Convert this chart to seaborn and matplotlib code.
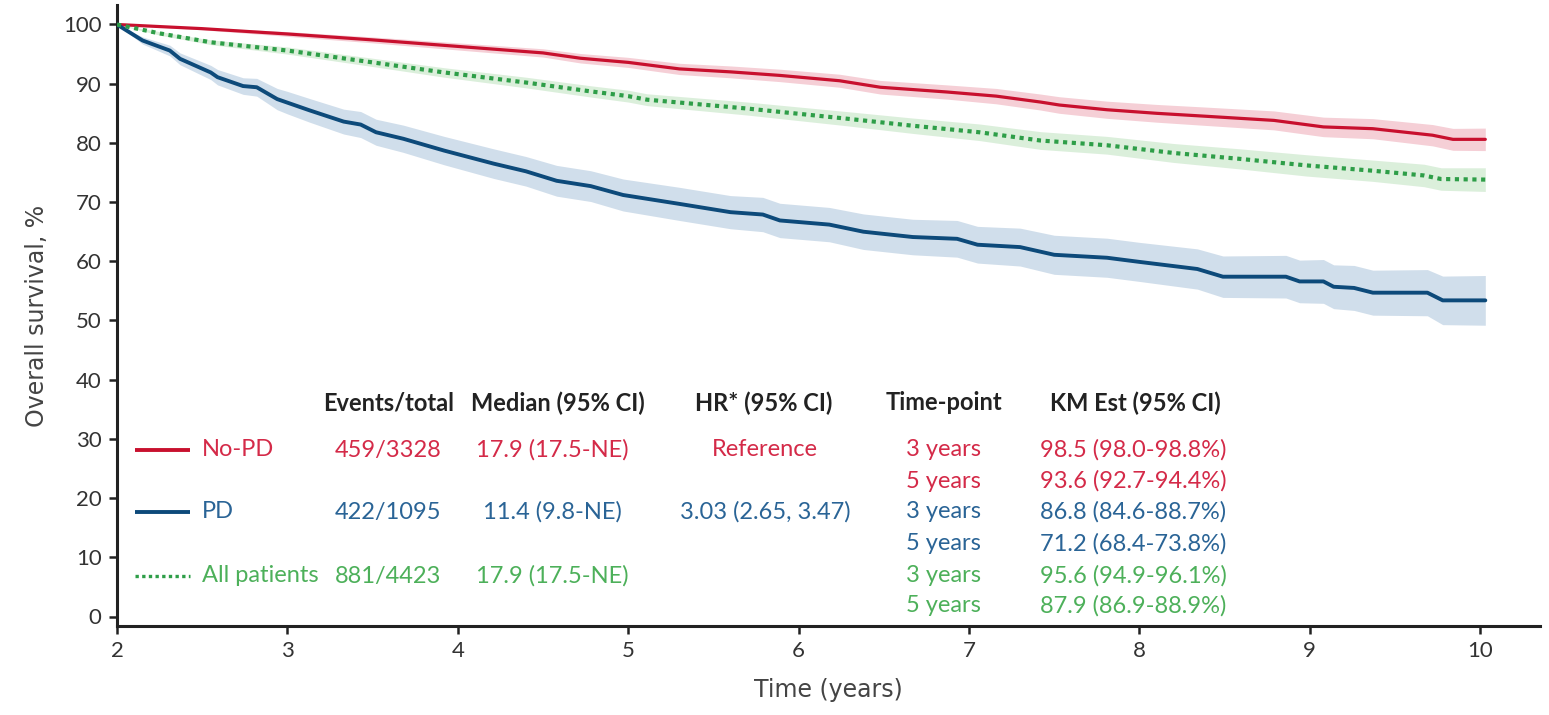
import matplotlib
matplotlib.use("Agg")
import matplotlib.pyplot as plt
import seaborn as sns
import pandas as pd
import numpy as np

# ---------------- data ----------------
red_t = [2.0, 2.5, 3.0, 3.5, 4.0, 4.5, 4.72, 5.0, 5.3, 5.6, 5.89, 6.24, 6.48,
         6.87, 7.16, 7.42, 7.53, 7.81, 8.1, 8.39, 8.79, 9.08, 9.37, 9.72, 9.84, 10.03]
red_s = [100, 99.3, 98.4, 97.4, 96.3, 95.2, 94.3, 93.6, 92.5, 92.0, 91.4, 90.5, 89.4,
         88.6, 87.9, 86.9, 86.4, 85.6, 85.0, 84.5, 83.8, 82.7, 82.4, 81.3, 80.6, 80.6]
red_hw = [0, 0.2, 0.4, 0.5, 0.6, 0.7, 0.8, 0.85, 0.95, 1.0, 1.05, 1.1, 1.15,
          1.2, 1.3, 1.35, 1.4, 1.45, 1.5, 1.55, 1.6, 1.65, 1.7, 1.8, 1.85, 1.9]

blue_t = [2.0, 2.15, 2.31, 2.37, 2.55, 2.59, 2.74, 2.82, 2.94, 3.0, 3.13, 3.33, 3.43,
          3.52, 3.68, 3.92, 4.21, 4.40, 4.58, 4.78, 4.97, 5.30, 5.60, 5.79, 5.89, 6.18,
          6.38, 6.67, 6.93, 7.05, 7.30, 7.50, 7.81, 8.00, 8.34, 8.49, 8.86, 8.94, 9.08,
          9.14, 9.26, 9.37, 9.69, 9.78, 10.03]
blue_s = [100, 97.3, 95.6, 94.2, 91.9, 91.1, 89.6, 89.4, 87.4, 86.8, 85.5, 83.6, 83.1,
          81.8, 80.7, 78.7, 76.5, 75.2, 73.6, 72.7, 71.2, 69.7, 68.3, 67.9, 66.9, 66.2,
          65.0, 64.1, 63.8, 62.8, 62.4, 61.1, 60.6, 59.9, 58.7, 57.4, 57.4, 56.6, 56.6,
          55.7, 55.5, 54.7, 54.7, 53.4, 53.4]
blue_hw = [0, 0.6, 0.9, 1.0, 1.2, 1.3, 1.4, 1.5, 1.8, 1.9, 2.0, 2.1, 2.2,
           2.2, 2.3, 2.4, 2.5, 2.5, 2.6, 2.6, 2.7, 2.8, 2.8, 2.9, 2.9, 2.9,
           3.0, 3.0, 3.1, 3.1, 3.2, 3.3, 3.3, 3.3, 3.4, 3.5, 3.6, 3.6, 3.7,
           3.7, 3.8, 3.8, 3.9, 4.1, 4.2]

green_t = [2.0, 2.25, 2.55, 3.0, 3.5, 3.92, 4.4, 4.78, 5.0, 5.11, 5.70, 6.28, 6.67,
           7.06, 7.42, 7.81, 8.20, 8.59, 8.98, 9.37, 9.67, 9.77, 10.03]
green_s = [100, 98.5, 97.0, 95.6, 93.6, 91.9, 90.2, 88.7, 87.9, 87.3, 85.8, 84.1, 82.9,
           81.8, 80.4, 79.6, 78.3, 77.3, 76.2, 75.3, 74.5, 73.9, 73.8]
green_hw = [0, 0.3, 0.4, 0.6, 0.7, 0.8, 0.9, 0.95, 1.0, 1.0, 1.1, 1.2, 1.3,
            1.4, 1.5, 1.5, 1.6, 1.7, 1.8, 1.8, 1.9, 1.9, 2.0]

x_ticks = [2, 3, 4, 5, 6, 7, 8, 9, 10]
y_ticks = [0, 10, 20, 30, 40, 50, 60, 70, 80, 90, 100]

headers = ["Events/total", "Median (95% CI)", "HR* (95% CI)", "Time-point", "KM Est (95% CI)"]
groups = ["No-PD", "PD", "All patients"]
events = ["459/3328", "422/1095", "881/4423"]
medians = ["17.9 (17.5-NE)", "11.4 (9.8-NE)", "17.9 (17.5-NE)"]
hrs = ["Reference", "3.03 (2.65, 3.47)", ""]
timepoints = ["3 years", "5 years"]
km_est = [["98.5 (98.0-98.8%)", "93.6 (92.7-94.4%)"],
          ["86.8 (84.6-88.7%)", "71.2 (68.4-73.8%)"],
          ["95.6 (94.9-96.1%)", "87.9 (86.9-88.9%)"]]

# ---------------- styling ----------------
line_cols = ["#C8102E", "#0D4A7A", "#2E9E48"]
band_cols = ["#F3C3CC", "#C5D6E6", "#D3EBD3"]
text_cols = ["#D42A48", "#2A6496", "#4DB05A"]

sns.set_theme(style="white")
plt.rcParams['font.family'] = ['Lato', 'DejaVu Sans']

fig = plt.figure(figsize=(15.49, 7.15), dpi=100)
ax = fig.add_axes([117 / 1549, (715 - 626) / 715, (1540 - 117) / 1549, (626 - 5) / 715])

series = [(red_t, red_s, red_hw), (blue_t, blue_s, blue_hw), (green_t, green_s, green_hw)]
for i, (t, s, hw) in enumerate(series):
    t = np.array(t); s = np.array(s); hw = np.array(hw)
    ax.fill_between(t, s - hw, np.minimum(s + hw, 100), color=band_cols[i], lw=0, alpha=0.8, zorder=1)

for i, (t, s, hw) in enumerate(series):
    df = pd.DataFrame({"t": t, "s": s})
    if i == 2:
        sns.lineplot(data=df, x="t", y="s", ax=ax, color=line_cols[i], lw=3.0,
                     linestyle=(0, (1, 1.1)), dash_capstyle="butt", errorbar=None,
                     sort=False, zorder=3)
    else:
        sns.lineplot(data=df, x="t", y="s", ax=ax, color=line_cols[i],
                     lw=2.3 if i == 0 else 2.8, errorbar=None, sort=False, zorder=3)

ax.set_xlim(2, 2 + (1540 - 117) / 170.4)
ax.set_ylim(-(626 - 616.5) / 5.92, (616.5 - 5) / 5.92)
ax.set_xticks(x_ticks)
ax.set_yticks(y_ticks)
ax.tick_params(axis="both", direction="out", length=6, width=1.8, color="#222222",
               labelsize=16, labelcolor="#333333", pad=5, left=True, bottom=True)
for side in ["top", "right"]:
    ax.spines[side].set_visible(False)
for side in ["left", "bottom"]:
    ax.spines[side].set_color("#222222")
    ax.spines[side].set_linewidth(2.2)

cond = ['Liberation Sans Narrow', 'DejaVu Sans']
ax.set_ylabel("Overall survival, %", fontsize=17, color="#444444", family=cond, labelpad=10)
ax.set_xlabel("Time (years)", fontsize=17, color="#444444", family=cond, labelpad=12)

# ---------------- in-plot table ----------------
def px2x(px):
    return 2 + (px - 117) / 170.4

def py2y(py):
    return (616.5 - py) / 5.92

fs = 17
hdr_y = py2y(403)
hkw = dict(va="center", fontsize=fs, fontweight="bold", color="#222222")
ax.text(px2x(323), hdr_y, headers[0], ha="left", **hkw)
ax.text(px2x(645), hdr_y, headers[1], ha="right", **hkw)
ax.text(px2x(764), hdr_y, headers[2], ha="center", **hkw)
ax.text(px2x(944), hdr_y, headers[3], ha="center", **hkw)
ax.text(px2x(1135), hdr_y, headers[4], ha="center", **hkw)

row_py = [[450, 481], [512, 544], [576, 606]]
for i in range(3):
    y1 = py2y(row_py[i][0])
    y2 = py2y(row_py[i][1])
    c = text_cols[i]
    if i == 2:
        ax.plot([px2x(135), px2x(190)], [y1, y1], color=line_cols[i], lw=2.4,
                linestyle=(0, (1, 1.0)), dash_capstyle="butt", clip_on=False)
    else:
        ax.plot([px2x(135), px2x(190)], [y1, y1], color=line_cols[i], lw=2.8,
                solid_capstyle="butt", clip_on=False)
    kw = dict(va="center", fontsize=fs, color=c)
    ax.text(px2x(202), y1, groups[i], ha="left", **kw)
    ax.text(px2x(388), y1, events[i], ha="center", **kw)
    ax.text(px2x(552), y1, medians[i], ha="center", **kw)
    if hrs[i]:
        ax.text(px2x(765), y1, hrs[i], ha="center", **kw)
    ax.text(px2x(943), y1, timepoints[0], ha="center", **kw)
    ax.text(px2x(943), y2, timepoints[1], ha="center", **kw)
    ax.text(px2x(1133), y1, km_est[i][0], ha="center", **kw)
    ax.text(px2x(1133), y2, km_est[i][1], ha="center", **kw)

fig.savefig("out.png", dpi=100, facecolor="white")
